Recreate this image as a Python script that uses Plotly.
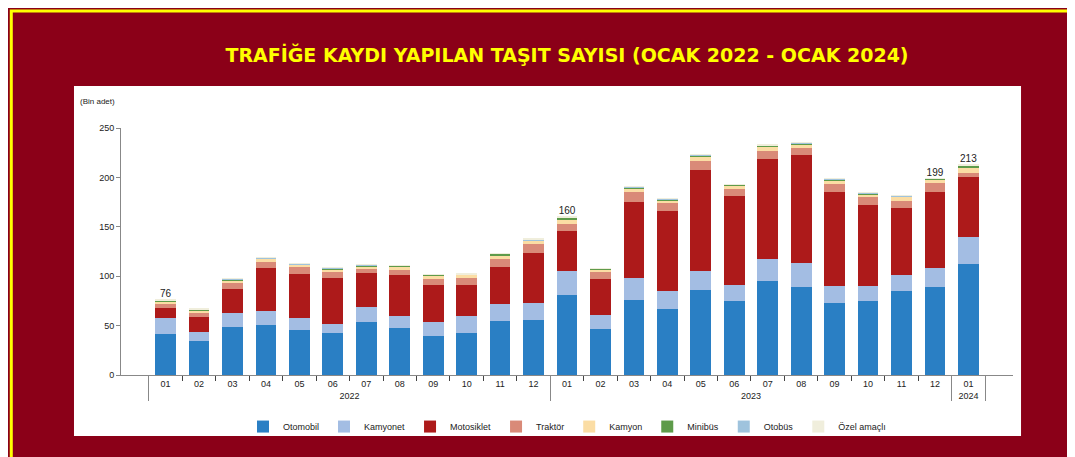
import plotly.graph_objects as go

years = ["2022"]*12 + ["2023"]*12 + ["2024"]
months = [f"{m:02d}" for m in range(1, 13)]*2 + ["01"]

otomobil   = [41,34,49,51,46,43,54,48,39,43,55,56, 81,47,76,67,86,75,95,89.4,73,75,85.4,89.4, 112.7]
kamyonet   = [17,10,14,14,12,9,15,12,15,17,17,17, 24,14,22,18,19,16.4,22.4,24,17.4,15.4,16,19.2, 27.3]
motosiklet = [9.5,15,24.5,43.5,44.5,45.7,34.5,41.5,37,31.3,37.5,50.7, 40.5,36.5,77.4,81.3,102.8,90,101.6,109.6,95.2,82,68,77, 60.7]
traktor    = [4,4.5,5.5,6,7,6.8,4,5,6.4,7,8,9.3, 7,6.5,9.6,8,9,6.5,8,6.8,8,7.6,7,9, 4]
kamyon     = [3,2,3,3,2.5,2.5,2.5,3.7,3.6,3,3,2.8, 5,3,4,2.6,4,4,4,3.2,3.3,3,4,3.3, 4.7]
minibus    = [1,0.5,0.5,0.5,0.3,1,0.5,0.3,0.3,0.3,2,0.5, 1.5,0.5,1,1,1,0.6,1,1,1,1,0.6,0.6, 2.4]
otobus     = [0.3,0.5,1,1,0.7,0.3,1,0.3,0.3,0.5,0.5,1, 0.5,0.5,0.7,0.5,1,0.5,0.5,1,0.6,0.5,0.5,0.3, 0.7]
ozel       = [0.2,0.5,0.5,0.3,0.3,0.2,0.5,0.2,0.4,0.4,0.4,0.4, 0.5,0.3,0.6,0.6,0.5,0.3,0.3,0.5,0.5,0.5,0.5,0.2, 0.4]
total_labels = ["76"] + [""]*11 + ["160"] + [""]*10 + ["199", "213"]

series = [
    ("Otomobil", otomobil, "#2A7FC4"),
    ("Kamyonet", kamyonet, "#A3BDE3"),
    ("Motosiklet", motosiklet, "#AD1A1A"),
    ("Traktör", traktor, "#D98A78"),
    ("Kamyon", kamyon, "#FBDDA4"),
    ("Minibüs", minibus, "#5E9B4A"),
    ("Otobüs", otobus, "#9FC3DD"),
    ("Özel amaçlı", ozel, "#F0EEDC"),
]

x = [years, months]
fig = go.Figure()
for name, vals, col in series:
    fig.add_trace(go.Bar(x=x, y=vals, name=name, marker_color=col,
                         marker_line_width=0, width=0.62))

totals = [sum(v) for v in zip(*[s[1] for s in series])]
fig.add_trace(go.Scatter(x=x, y=totals, mode="text", text=total_labels,
                         textposition="top center", showlegend=False,
                         textfont=dict(size=10, color="#222"), hoverinfo="skip"))

fig.update_layout(
    barmode="stack",
    width=1075, height=457,
    margin=dict(l=113, r=70, t=120, b=90, autoexpand=False),
    paper_bgcolor="#8B0018",
    plot_bgcolor="white",
    font=dict(family="Arial, Liberation Sans", size=9, color="#222"),
    title=dict(text="<b>TRAFİĞE KAYDI YAPILAN TAŞIT SAYISI (OCAK 2022 - OCAK 2024)</b>",
               x=0.5, xref="paper", y=0.897, yanchor="middle",
               font=dict(family="Comic Sans MS, DejaVu Sans", size=19, color="#FFFF00")),
    legend=dict(orientation="h", x=0.5, xanchor="center", y=-0.15, yanchor="top",
                font=dict(size=9), bgcolor="rgba(0,0,0,0)", traceorder="normal",
                itemwidth=30),
    xaxis=dict(type="multicategory", showline=True, linecolor="#888", automargin=False,
               tickfont=dict(size=9), ticks="outside", showdividers=True,
               dividercolor="#888"),
    yaxis=dict(range=[0, 250], dtick=50, showgrid=False, showline=True, automargin=False,
               linecolor="#888", ticks="outside", ticklen=4, tickcolor="#888",
               tickfont=dict(size=9)),
    shapes=[
        dict(type="rect", xref="paper", yref="paper", x0=-0.0527, x1=1.009,
             y0=-0.247, y1=1.17, fillcolor="white", line_width=0, layer="below"),
        dict(type="rect", xref="paper", yref="paper", x0=-0.123, x1=1.075,
             y0=-0.352, y1=1.474, fillcolor="rgba(0,0,0,0)",
             line=dict(color="#FFFF00", width=3), layer="below"),
    ],
    annotations=[dict(text="(Bin adet)", xref="paper", yref="paper", x=-0.048,
                      y=1.135, showarrow=False, xanchor="left", font=dict(size=8))],
)
fig.write_html("out.html")
